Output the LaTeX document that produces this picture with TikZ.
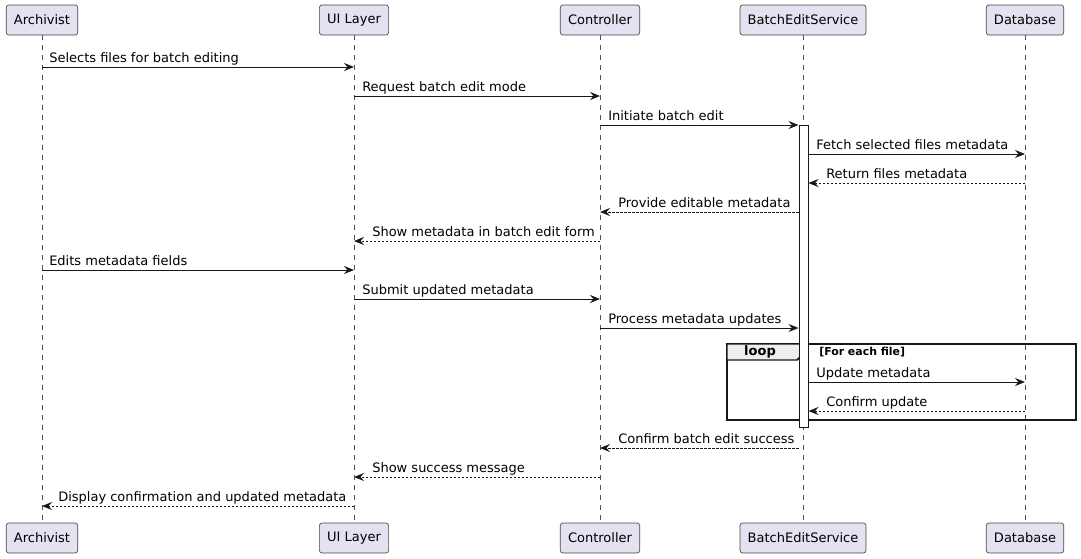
\documentclass[tikz,border=0pt]{standalone}
\usepackage{fontspec}
\setmainfont{DejaVu Sans}
\usetikzlibrary{arrows.meta}
\definecolor{partfill}{HTML}{E2E2F0}
\definecolor{partline}{HTML}{181818}
\definecolor{tabfill}{HTML}{EEEEEE}

\begin{document}
\begin{tikzpicture}[x=0.75pt, y=-0.75pt,
    part/.style={draw=partline!80, fill=partfill, rounded corners=2pt,
      line width=0.5pt, minimum height=22.5pt, inner xsep=5.8pt,
      inner ysep=0pt, font=\fontsize{9.75}{12}\selectfont},
    life/.style={draw=partline!75, line width=0.5pt,
      dash pattern=on 3.75pt off 3.75pt},
    msg/.style={draw=partline, line width=0.75pt,
      -{Stealth[length=7.5pt, width=6pt, inset=2.6pt]}},
    reply/.style={msg, dash pattern=on 1.6pt off 1.4pt},
    lbl/.style={font=\fontsize{9.75}{12}\selectfont, anchor=base west,
      inner sep=0pt},
  ]
  \useasboundingbox (0,0) rectangle (1081,558);

  % participants, top and bottom
  \foreach \nm/\x/\txt in {arch/42/Archivist, ui/354/UI Layer,
      ctrl/600/Controller, bes/803/BatchEditService, db/1025/Database}{
    \node[part] (\nm) at (\x,20) {\txt};
    \node[part] (\nm2) at (\x,538) {\txt};
    \draw[life] (\nm) -- (\nm2);
  }

  % loop frame
  \draw[partline, line width=1.1pt] (727,344) rectangle (1076,420);
  \draw[partline, line width=1.1pt, fill=tabfill]
    (727,344) -- (805,344) -- (805,352) -- (797,360) -- (727,360) -- cycle;
  \node[font=\bfseries\fontsize{9.75}{12}\selectfont, inner sep=0pt]
    (looplbl) at (760,352) {loop};
  \node[font=\bfseries\fontsize{8.2}{10}\selectfont, anchor=west, inner sep=0pt]
    (loopcond) at (819,352) {[For each file]};

  % activation
  \node[draw=partline, fill=white, line width=0.75pt, inner sep=0pt,
    minimum width=6.75pt, minimum height=226.5pt, anchor=north]
    (act) at (803.5,125) {};

  % messages
  \draw[msg] (arch |- 0,67) -- (ui |- 0,67);
  \node[lbl] at (49,62) {Selects files for batch editing};
  \draw[msg] (ui |- 0,96) -- (ctrl |- 0,96);
  \node[lbl] at (362,91) {Request batch edit mode};
  \draw[msg] (ctrl |- 0,125) -- (act.west |- 0,125);
  \node[lbl] at (608,120) {Initiate batch edit};
  \draw[msg] (act.east |- 0,154) -- (db |- 0,154);
  \node[lbl] at (816,149) {Fetch selected files metadata};
  \draw[reply] (db |- 0,183) -- (act.east |- 0,183);
  \node[lbl] at (826,178) {Return files metadata};
  \draw[reply] (act.west |- 0,212) -- (ctrl |- 0,212);
  \node[lbl] at (618,207) {Provide editable metadata};
  \draw[reply] (ctrl |- 0,241) -- (ui |- 0,241);
  \node[lbl] at (372,236) {Show metadata in batch edit form};
  \draw[msg] (arch |- 0,270) -- (ui |- 0,270);
  \node[lbl] at (49,265) {Edits metadata fields};
  \draw[msg] (ui |- 0,299) -- (ctrl |- 0,299);
  \node[lbl] at (362,294) {Submit updated metadata};
  \draw[msg] (ctrl |- 0,328) -- (act.west |- 0,328);
  \node[lbl] at (608,323) {Process metadata updates};
  \draw[msg] (act.east |- 0,382) -- (db |- 0,382);
  \node[lbl] at (816,377) {Update metadata};
  \draw[reply] (db |- 0,411) -- (act.east |- 0,411);
  \node[lbl] at (826,406) {Confirm update};
  \draw[reply] (act.west |- 0,448) -- (ctrl |- 0,448);
  \node[lbl] at (618,443) {Confirm batch edit success};
  \draw[reply] (ctrl |- 0,477) -- (ui |- 0,477);
  \node[lbl] at (372,472) {Show success message};
  \draw[reply] (ui |- 0,506) -- (arch |- 0,506);
  \node[lbl] at (58,501) {Display confirmation and updated metadata};
\end{tikzpicture}
\end{document}
